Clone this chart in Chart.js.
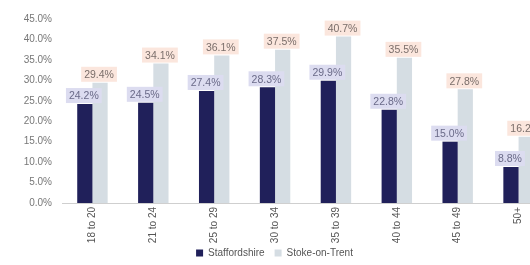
<!DOCTYPE html>
<html>
<head>
<meta charset="utf-8">
<script src="https://cdn.jsdelivr.net/npm/chart.js@4"></script>
<style>
  html, body { margin: 0; padding: 0; background: #fff; overflow: hidden; }
  #wrap { width: 572px; height: 265px; position: relative; }
</style>
</head>
<body>
<div id="wrap"><canvas id="chart"></canvas></div>
<script>
var categories = ['18 to 20', '21 to 24', '25 to 29', '30 to 34', '35 to 39', '40 to 44', '45 to 49', '50+'];
var staffordshire = [24.2, 24.5, 27.4, 28.3, 29.9, 22.8, 15.0, 8.8];
var stokeOnTrent = [29.4, 34.1, 36.1, 37.5, 40.7, 35.5, 27.8, 16.2];
var seriesNames = ['Staffordshire', 'Stoke-on-Trent'];
var yMax = 45;
var yStep = 5;

var FONT = '"Liberation Sans", Arial, sans-serif';

// boxed value labels sitting on top of each bar
var barLabels = {
	id: 'barLabels',
	afterLayout: function (chart) {
		// let the rotated category labels run past the reserved axis height
		chart.scales.x.bottom += 12;
	},
	afterDatasetsDraw: function (chart) {
		var ctx = chart.ctx;
		var boxColors = ['#dcdcf0', '#fbe6dd'];
		var textColors = ['#6a6a88', '#7a6e6a'];
		ctx.save();
		ctx.font = '10.5px ' + FONT;
		ctx.textAlign = 'center';
		ctx.textBaseline = 'middle';
		chart.data.datasets.forEach(function (ds, i) {
			chart.getDatasetMeta(i).data.forEach(function (bar, j) {
				var txt = ds.data[j].toFixed(1) + '%';
				var w = ctx.measureText(txt).width + 6;
				var h = 15;
				var x = bar.x - 1;
				var y = bar.y - 1 - h / 2;
				ctx.fillStyle = boxColors[i];
				ctx.fillRect(x - w / 2, y - h / 2, w, h);
				ctx.fillStyle = textColors[i];
				ctx.fillText(txt, x, y + 1);
			});
		});
		ctx.restore();
	}
};

var ctx = document.getElementById('chart').getContext('2d');
new Chart(ctx, {
	type: 'bar',
	data: {
		labels: categories,
		datasets: [{
			label: seriesNames[0],
			data: staffordshire,
			backgroundColor: '#20205a'
		}, {
			label: seriesNames[1],
			data: stokeOnTrent,
			backgroundColor: '#d5dde3'
		}]
	},
	options: {
		responsive: true,
		maintainAspectRatio: false,
		animation: false,
		categoryPercentage: 0.5,
		barPercentage: 1.0,
		layout: { padding: { top: 19, right: 23, left: 0, bottom: -3 } },
		plugins: {
			tooltip: { enabled: false },
			legend: {
				position: 'bottom',
				labels: {
					boxWidth: 7,
					boxHeight: 7,
					padding: 10,
					color: '#555',
					font: { size: 10, family: FONT }
				}
			}
		},
		scales: {
			x: {
				afterFit: function (axis) { axis.height = 35; },
				grid: { display: false, drawTicks: false },
				border: { color: '#cfcfcf', width: 1 },
				ticks: {
					color: '#555',
					font: { size: 10, family: FONT },
					maxRotation: 90,
					minRotation: 90,
					padding: 4
				}
			},
			y: {
				min: 0,
				max: yMax,
				afterFit: function (axis) { axis.width = 62; },
				grid: { display: false, drawTicks: false },
				border: { display: false },
				ticks: {
					stepSize: yStep,
					color: '#777',
					padding: 10,
					font: { size: 10, family: FONT },
					callback: function (v) { return v.toFixed(1) + '%'; }
				}
			}
		}
	},
	plugins: [barLabels]
});
</script>
</body>
</html>
